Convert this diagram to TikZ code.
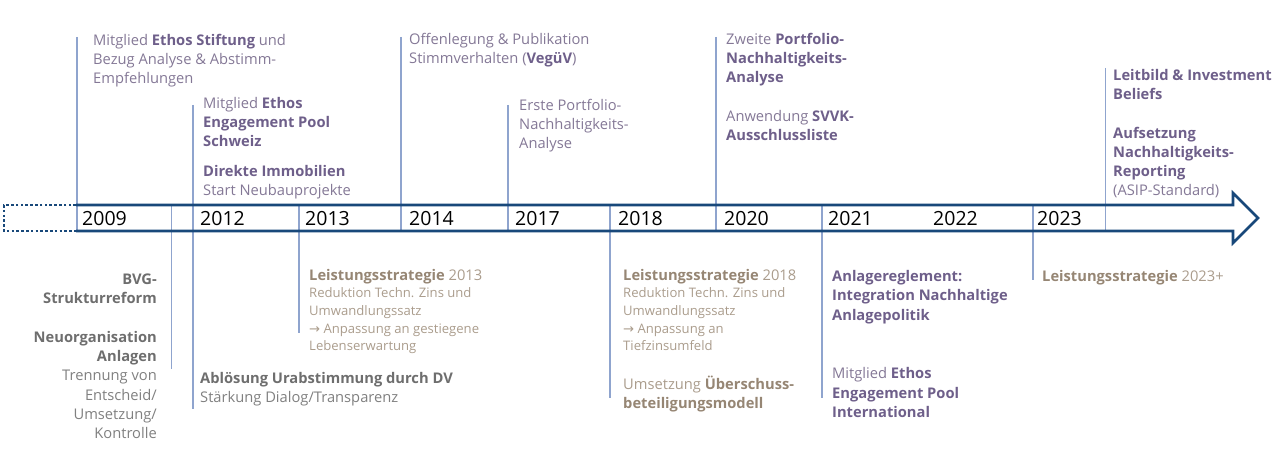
\documentclass[tikz,border=0pt]{standalone}
\usepackage{fontspec}
\setmainfont{Open Sans}
\newfontfamily\arrowfont{DejaVu Sans}

\definecolor{axisBlue}{RGB}{24,72,122}
\definecolor{tickBlue}{RGB}{143,164,206}
\definecolor{lilacText}{RGB}{132,120,150}
\definecolor{lilacBold}{RGB}{110,95,138}
\definecolor{greyText}{RGB}{128,128,128}
\definecolor{greyBold}{RGB}{110,110,110}
\definecolor{sandText}{RGB}{170,156,140}
\definecolor{sandBold}{RGB}{150,134,116}

\newcommand{\firstline}{\rule{0pt}{14pt}}
\newcommand{\lilacB}[1]{\textbf{\color{lilacBold}#1}}
\newcommand{\greyB}[1]{\textbf{\color{greyBold}#1}}
\newcommand{\sandB}[1]{\textbf{\color{sandBold}#1}}
\newcommand{\smallLine}[1]{{\fontsize{13.1pt}{17.7pt}\selectfont #1}}
\newcommand{\toArrow}{{\arrowfont →}}

\begin{document}
\begin{tikzpicture}[
			x=1pt, y=-1pt,
			axisLine/.style={draw=axisBlue, line width=2.6pt, line join=miter},
			tickLine/.style={draw=tickBlue, line width=1.6pt},
			yearLabel/.style={anchor=base west, inner sep=0pt, font=\fontsize{19.5pt}{20pt}\selectfont},
			topEvent/.style={anchor=north west, yshift=14pt, inner sep=0pt, align=left, text=lilacText, font=\fontsize{14.7pt}{19.3pt}\selectfont},
			bottomEvent/.style={topEvent, text=greyText},
			sandEvent/.style={topEvent, text=sandText, font=\fontsize{14.7pt}{17.7pt}\selectfont}
		]
		\useasboundingbox (0,0) rectangle (1280,454);

		% Ticks from the axis to the events
		\foreach \x/\from/\to in {77/37/231, 171.5/205/369, 193/105/409, 299/205/333, 401/37/231, 508/105/231,
				610/205/398, 716/37/231, 822/205/398, 1033/205/280, 1105.5/68/231}
			\draw[tickLine] (\x,\from) -- (\x,\to);

		% Timeline arrow
		\draw[axisLine] (76,205) -- (1233,205) -- (1233,193) -- (1258,218) -- (1233,243) -- (1233,231) -- (76,231);
		\draw[axisLine, line width=2.6pt, dash pattern=on 2.6pt off 2.2pt] (76,205) -- (4,205) -- (4,231) -- (76,231);

		% Years
		\foreach \x/\yr in {82/2009, 200/2012, 305/2013, 409/2014, 515/2017, 618/2018, 724/2020, 828/2021, 933/2022, 1037/2023}
			\node[yearLabel] (y\yr) at (\x,225.5) {\yr};

		% Events above the axis
		\node[topEvent] (ethos09) at (93,45) {\firstline Mitglied \lilacB{Ethos Stiftung} und\\ Bezug Analyse \& Abstimm-\\ Empfehlungen};
		\node[topEvent] (pool12) at (203,108) {\firstline Mitglied \lilacB{Ethos}\\ \lilacB{Engagement Pool}\\ \lilacB{Schweiz}\\[10.5pt]
				\lilacB{Direkte Immobilien}\\ Start Neubauprojekte};
		\node[topEvent] (veguv14) at (409,44) {\firstline Offenlegung \& Publikation\\ Stimmverhalten (\lilacB{VegüV})};
		\node[topEvent] (erste17) at (519,110) {\firstline Erste Portfolio-\\ Nachhaltigkeits-\\ Analyse};
		\node[topEvent] (zweite20) at (726,44) {\firstline Zweite \lilacB{Portfolio-}\\ \lilacB{Nachhaltigkeits-}\\ \lilacB{Analyse}\\[19.3pt]
				Anwendung \lilacB{SVVK-}\\ \lilacB{Ausschlussliste}};
		\node[topEvent] (leitbild23) at (1113,80) {\firstline\lilacB{Leitbild \& Investment}\\ \lilacB{Beliefs}\\[19.3pt]
				\lilacB{Aufsetzung}\\ \lilacB{Nachhaltigkeits-}\\ \lilacB{Reporting}\\ (ASIP-Standard)};

		% Events below the axis
		\node[bottomEvent, anchor=north east, align=right] (bvg09) at (157,284) {\firstline\greyB{BVG-}\\ \greyB{Strukturreform}\\[19.3pt]
				\greyB{Neuorganisation}\\ \greyB{Anlagen}\\ Trennung von\\ Entscheid/\\ Umsetzung/\\ Kontrolle};
		\node[bottomEvent] (ablos12) at (200,383) {\firstline\greyB{Ablösung Urabstimmung durch DV}\\ Stärkung Dialog/Transparenz};
		\node[sandEvent] (ls13) at (309,280) {\firstline\sandB{Leistungsstrategie} 2013\\ \smallLine{Reduktion Techn. Zins und}\\
				\smallLine{Umwandlungssatz}\\ \smallLine{\toArrow{} Anpassung an gestiegene}\\ \smallLine{Lebenserwartung}};
		\node[sandEvent] (ls18) at (623,280) {\firstline\sandB{Leistungsstrategie} 2018\\ \smallLine{Reduktion Techn. Zins und}\\
				\smallLine{Umwandlungssatz}\\ \smallLine{\toArrow{} Anpassung an}\\ \smallLine{Tiefzinsumfeld}};
		\node[topEvent, text=sandText] (ueber18) at (623,389) {\firstline Umsetzung \sandB{Überschuss-}\\ \sandB{beteiligungsmodell}};
		\node[topEvent] (anlage21) at (832,281.5) {\firstline\lilacB{Anlagereglement:}\\ \lilacB{Integration Nachhaltige}\\ \lilacB{Anlagepolitik}};
		\node[topEvent] (intl21) at (832,378.5) {\firstline Mitglied \lilacB{Ethos}\\ \lilacB{Engagement Pool}\\ \lilacB{International}};
		\node[sandEvent] (ls23) at (1042,281) {\firstline\sandB{Leistungsstrategie} 2023+};
	\end{tikzpicture}
\end{document}
